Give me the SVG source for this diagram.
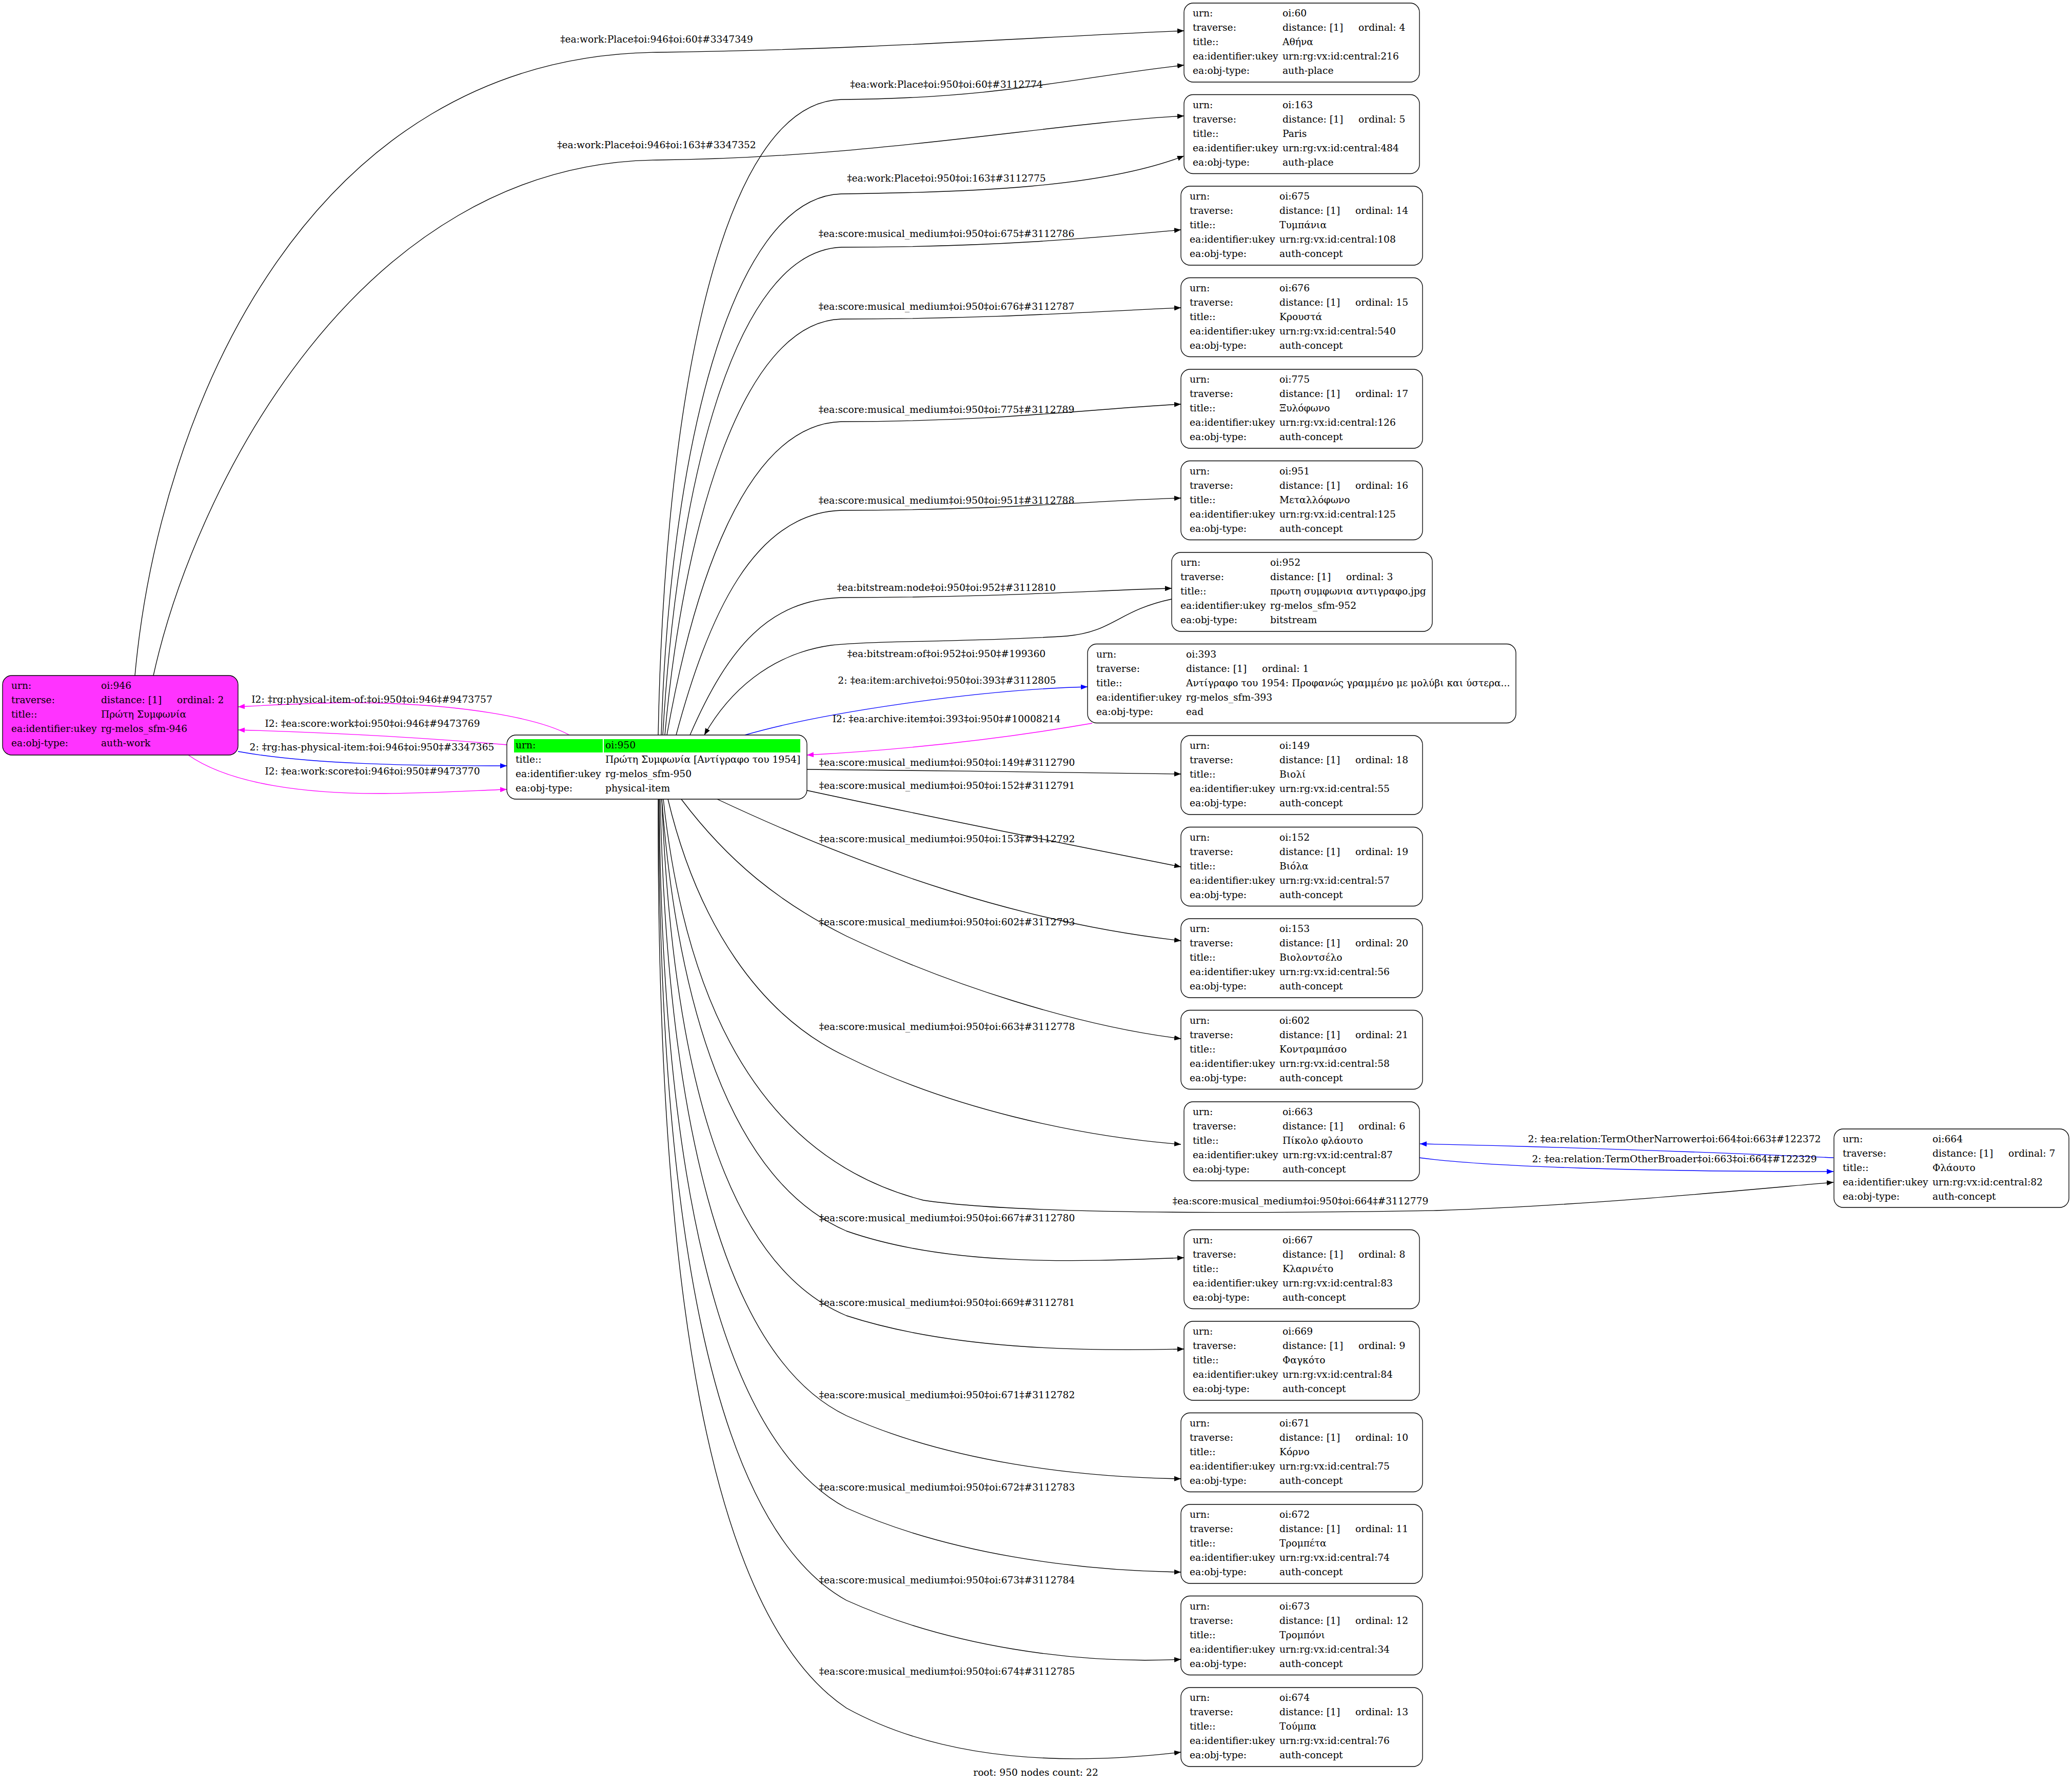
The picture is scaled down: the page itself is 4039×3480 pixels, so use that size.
<svg xmlns="http://www.w3.org/2000/svg" width="4039" height="3480" viewBox="0 0 4039 3480">
<style>
text{font-family:"DejaVu Serif","Liberation Serif",serif;font-size:18.67px;fill:#000}
.nb{fill:#fff;stroke:#000;stroke-width:1.33}
.nm{fill:#ff33ff;stroke:#000;stroke-width:1.33}
.e{fill:none;stroke-width:1.33}
.k{stroke:#000}
.b{stroke:#0000ff}
.p{stroke:#ff00ff}
.lm{text-anchor:middle}
</style>
<defs>
<marker id="ak" viewBox="0 0 13 10" refX="13" refY="5" markerWidth="13" markerHeight="10" markerUnits="userSpaceOnUse" orient="auto"><path d="M0,0 L13,5 L0,10 z" fill="#000"/></marker>
<marker id="ab" viewBox="0 0 13 10" refX="13" refY="5" markerWidth="13" markerHeight="10" markerUnits="userSpaceOnUse" orient="auto"><path d="M0,0 L13,5 L0,10 z" fill="#0000ff"/></marker>
<marker id="ap" viewBox="0 0 13 10" refX="13" refY="5" markerWidth="13" markerHeight="10" markerUnits="userSpaceOnUse" orient="auto"><path d="M0,0 L13,5 L0,10 z" fill="#ff00ff"/></marker>
</defs>
<rect width="4039" height="3480" fill="#fff"/>

<g id="edges">
<path class="e k" marker-end="url(#ak)" d="M263,1317 C310,800 600,110 1280,102 C1700,97 2050,70 2308,60"/>
<path class="e k" marker-end="url(#ak)" d="M299,1317 C380,950 700,318 1280,312 C1700,308 2050,240 2308,226"/>
<path class="e k" marker-end="url(#ak)" d="M1283,1433 C1295,800 1400,200 1640,194 C1950,192 2100,150 2308,127"/>
<path class="e k" marker-end="url(#ak)" d="M1289,1433 C1305,900 1420,385 1640,378 C1900,375 2150,365 2308,304"/>
<path class="e k" marker-end="url(#ak)" d="M1292,1433 C1320,950 1430,490 1640,482 C1950,482 2150,462 2302,448"/>
<path class="e k" marker-end="url(#ak)" d="M1296,1433 C1330,1050 1440,628 1640,622 C1950,622 2150,606 2302,600"/>
<path class="e k" marker-end="url(#ak)" d="M1300,1433 C1350,1150 1450,828 1640,822 C1950,822 2150,795 2302,788"/>
<path class="e k" marker-end="url(#ak)" d="M1318,1433 C1380,1200 1470,1000 1640,995 C1950,995 2150,975 2302,971"/>
<path class="e k" marker-end="url(#ak)" d="M1345,1433 C1420,1260 1500,1170 1640,1165 C1950,1165 2150,1150 2284,1147"/>
<path class="e k" marker-end="url(#ak)" d="M2284,1168 C2180,1190 2170,1232 2080,1240 C1900,1252 1720,1248 1620,1258 C1500,1275 1420,1350 1373,1433"/>
<path class="e b" marker-end="url(#ab)" d="M1452,1433 C1600,1390 1900,1345 2120,1339"/>
<path class="e p" marker-end="url(#ap)" d="M2129,1410 C1900,1450 1700,1465 1573,1472"/>
<path class="e k" marker-end="url(#ak)" d="M1573,1500 C1800,1502 2100,1506 2302,1509"/>
<path class="e k" marker-end="url(#ak)" d="M1573,1541 C1800,1590 2050,1640 2302,1690"/>
<path class="e k" marker-end="url(#ak)" d="M1398,1558 C1700,1700 2000,1800 2302,1834"/>
<path class="e k" marker-end="url(#ak)" d="M1328,1558 C1420,1680 1520,1760 1650,1825 C1850,1920 2100,2000 2302,2025"/>
<path class="e k" marker-end="url(#ak)" d="M1302,1558 C1360,1800 1480,1980 1650,2060 C1850,2160 2100,2215 2302,2231"/>
<path class="e k" marker-end="url(#ak)" d="M1293,1558 C1330,1900 1450,2250 1800,2340 C2000,2370 2500,2365 2800,2360 C3100,2350 3400,2320 3574,2305"/>
<path class="e k" marker-end="url(#ak)" d="M1290,1558 C1320,1950 1420,2300 1650,2400 C1850,2470 2100,2460 2308,2452"/>
<path class="e k" marker-end="url(#ak)" d="M1290,1558 C1310,2050 1400,2460 1650,2565 C1850,2630 2100,2635 2308,2630"/>
<path class="e k" marker-end="url(#ak)" d="M1287,1558 C1300,2150 1400,2640 1650,2760 C1850,2850 2100,2880 2302,2883"/>
<path class="e k" marker-end="url(#ak)" d="M1285,1558 C1290,2250 1390,2800 1650,2940 C1850,3030 2100,3062 2302,3065"/>
<path class="e k" marker-end="url(#ak)" d="M1284,1558 C1285,2350 1380,2970 1650,3120 C1850,3210 2100,3245 2302,3235"/>
<path class="e k" marker-end="url(#ak)" d="M1283,1558 C1280,2500 1380,3150 1650,3330 C1850,3440 2100,3440 2302,3416"/>
<path class="e b" marker-end="url(#ab)" d="M3574,2257 C3300,2245 3000,2235 2768,2230"/>
<path class="e b" marker-end="url(#ab)" d="M2766,2257 C2900,2275 3200,2284 3574,2284"/>
<path class="e p" marker-end="url(#ap)" d="M1110,1433 C1050,1400 900,1372 700,1370 C600,1370 520,1375 464,1378"/>
<path class="e p" marker-end="url(#ap)" d="M988,1452 C850,1440 700,1430 464,1423"/>
<path class="e b" marker-end="url(#ab)" d="M464,1465 C600,1490 800,1493 988,1493"/>
<path class="e p" marker-end="url(#ap)" d="M367,1472 C450,1530 600,1548 750,1547 C850,1546 930,1541 988,1539"/>
<g class="lm">
<text x="1280" y="83">‡ea:work:Place‡oi:946‡oi:60‡#3347349</text>
<text x="1280" y="289">‡ea:work:Place‡oi:946‡oi:163‡#3347352</text>
<text x="1845" y="171">‡ea:work:Place‡oi:950‡oi:60‡#3112774</text>
<text x="1845" y="354">‡ea:work:Place‡oi:950‡oi:163‡#3112775</text>
<text x="1845" y="462">‡ea:score:musical_medium‡oi:950‡oi:675‡#3112786</text>
<text x="1845" y="604">‡ea:score:musical_medium‡oi:950‡oi:676‡#3112787</text>
<text x="1845" y="805">‡ea:score:musical_medium‡oi:950‡oi:775‡#3112789</text>
<text x="1845" y="982">‡ea:score:musical_medium‡oi:950‡oi:951‡#3112788</text>
<text x="1845" y="1152">‡ea:bitstream:node‡oi:950‡oi:952‡#3112810</text>
<text x="1845" y="1281">‡ea:bitstream:of‡oi:952‡oi:950‡#199360</text>
<text x="1846" y="1333">2: ‡ea:item:archive‡oi:950‡oi:393‡#3112805</text>
<text x="1845" y="1408">I2: ‡ea:archive:item‡oi:393‡oi:950‡#10008214</text>
<text x="1846" y="1493">‡ea:score:musical_medium‡oi:950‡oi:149‡#3112790</text>
<text x="1846" y="1538">‡ea:score:musical_medium‡oi:950‡oi:152‡#3112791</text>
<text x="1846" y="1642">‡ea:score:musical_medium‡oi:950‡oi:153‡#3112792</text>
<text x="1846" y="1804">‡ea:score:musical_medium‡oi:950‡oi:602‡#3112793</text>
<text x="1846" y="2008">‡ea:score:musical_medium‡oi:950‡oi:663‡#3112778</text>
<text x="2535" y="2348">‡ea:score:musical_medium‡oi:950‡oi:664‡#3112779</text>
<text x="1846" y="2381">‡ea:score:musical_medium‡oi:950‡oi:667‡#3112780</text>
<text x="1846" y="2546">‡ea:score:musical_medium‡oi:950‡oi:669‡#3112781</text>
<text x="1846" y="2726">‡ea:score:musical_medium‡oi:950‡oi:671‡#3112782</text>
<text x="1846" y="2906">‡ea:score:musical_medium‡oi:950‡oi:672‡#3112783</text>
<text x="1846" y="3087">‡ea:score:musical_medium‡oi:950‡oi:673‡#3112784</text>
<text x="1846" y="3265">‡ea:score:musical_medium‡oi:950‡oi:674‡#3112785</text>
<text x="3264" y="2227">2: ‡ea:relation:TermOtherNarrower‡oi:664‡oi:663‡#122372</text>
<text x="3264" y="2266">2: ‡ea:relation:TermOtherBroader‡oi:663‡oi:664‡#122329</text>
<text x="725" y="1370">I2: ‡rg:physical-item-of:‡oi:950‡oi:946‡#9473757</text>
<text x="726" y="1417">I2: ‡ea:score:work‡oi:950‡oi:946‡#9473769</text>
<text x="725" y="1463">2: ‡rg:has-physical-item:‡oi:946‡oi:950‡#3347365</text>
<text x="726" y="1510">I2: ‡ea:work:score‡oi:946‡oi:950‡#9473770</text>
</g>
</g>

<g id="n946" transform="translate(5,1317)">
<rect class="nm" width="459" height="155" rx="18"/>
<text x="17" y="26">urn:</text><text x="192" y="26">oi:946</text>
<text x="17" y="54">traverse:</text><text x="192" y="54">distance: [1]</text><text x="340" y="54">ordinal: 2</text>
<text x="17" y="82">title::</text><text x="192" y="82">Πρώτη Συμφωνία</text>
<text x="17" y="110">ea:identifier:ukey</text><text x="192" y="110">rg-melos_sfm-946</text>
<text x="17" y="138">ea:obj-type:</text><text x="192" y="138">auth-work</text>
</g>

<g id="n950" transform="translate(988,1433)">
<rect class="nb" width="585" height="125" rx="18"/>
<rect x="14" y="8" width="173" height="26" fill="#00ff00"/>
<rect x="189" y="8" width="383" height="26" fill="#00ff00"/>
<text x="17" y="26">urn:</text><text x="192" y="26">oi:950</text>
<text x="17" y="54">title::</text><text x="192" y="54">Πρώτη Συμφωνία [Αντίγραφο του 1954]</text>
<text x="17" y="82">ea:identifier:ukey</text><text x="192" y="82">rg-melos_sfm-950</text>
<text x="17" y="110">ea:obj-type:</text><text x="192" y="110">physical-item</text>
</g>

<g id="n60" transform="translate(2308,6)">
<rect class="nb" width="459" height="154" rx="18"/>
<text x="17" y="26">urn:</text><text x="192" y="26">oi:60</text>
<text x="17" y="54">traverse:</text><text x="192" y="54">distance: [1]</text><text x="340" y="54">ordinal: 4</text>
<text x="17" y="82">title::</text><text x="192" y="82">Αθήνα</text>
<text x="17" y="110">ea:identifier:ukey</text><text x="192" y="110">urn:rg:vx:id:central:216</text>
<text x="17" y="138">ea:obj-type:</text><text x="192" y="138">auth-place</text>
</g>

<g id="n163" transform="translate(2308,184.5)">
<rect class="nb" width="459" height="154" rx="18"/>
<text x="17" y="26">urn:</text><text x="192" y="26">oi:163</text>
<text x="17" y="54">traverse:</text><text x="192" y="54">distance: [1]</text><text x="340" y="54">ordinal: 5</text>
<text x="17" y="82">title::</text><text x="192" y="82">Paris</text>
<text x="17" y="110">ea:identifier:ukey</text><text x="192" y="110">urn:rg:vx:id:central:484</text>
<text x="17" y="138">ea:obj-type:</text><text x="192" y="138">auth-place</text>
</g>

<g id="n675" transform="translate(2302,363)">
<rect class="nb" width="471" height="154" rx="18"/>
<text x="17" y="26">urn:</text><text x="192" y="26">oi:675</text>
<text x="17" y="54">traverse:</text><text x="192" y="54">distance: [1]</text><text x="340" y="54">ordinal: 14</text>
<text x="17" y="82">title::</text><text x="192" y="82">Τυμπάνια</text>
<text x="17" y="110">ea:identifier:ukey</text><text x="192" y="110">urn:rg:vx:id:central:108</text>
<text x="17" y="138">ea:obj-type:</text><text x="192" y="138">auth-concept</text>
</g>

<g id="n676" transform="translate(2302,541.5)">
<rect class="nb" width="471" height="154" rx="18"/>
<text x="17" y="26">urn:</text><text x="192" y="26">oi:676</text>
<text x="17" y="54">traverse:</text><text x="192" y="54">distance: [1]</text><text x="340" y="54">ordinal: 15</text>
<text x="17" y="82">title::</text><text x="192" y="82">Κρουστά</text>
<text x="17" y="110">ea:identifier:ukey</text><text x="192" y="110">urn:rg:vx:id:central:540</text>
<text x="17" y="138">ea:obj-type:</text><text x="192" y="138">auth-concept</text>
</g>

<g id="n775" transform="translate(2302,720)">
<rect class="nb" width="471" height="154" rx="18"/>
<text x="17" y="26">urn:</text><text x="192" y="26">oi:775</text>
<text x="17" y="54">traverse:</text><text x="192" y="54">distance: [1]</text><text x="340" y="54">ordinal: 17</text>
<text x="17" y="82">title::</text><text x="192" y="82">Ξυλόφωνο</text>
<text x="17" y="110">ea:identifier:ukey</text><text x="192" y="110">urn:rg:vx:id:central:126</text>
<text x="17" y="138">ea:obj-type:</text><text x="192" y="138">auth-concept</text>
</g>

<g id="n951" transform="translate(2302,898.5)">
<rect class="nb" width="471" height="154" rx="18"/>
<text x="17" y="26">urn:</text><text x="192" y="26">oi:951</text>
<text x="17" y="54">traverse:</text><text x="192" y="54">distance: [1]</text><text x="340" y="54">ordinal: 16</text>
<text x="17" y="82">title::</text><text x="192" y="82">Μεταλλόφωνο</text>
<text x="17" y="110">ea:identifier:ukey</text><text x="192" y="110">urn:rg:vx:id:central:125</text>
<text x="17" y="138">ea:obj-type:</text><text x="192" y="138">auth-concept</text>
</g>

<g id="n952" transform="translate(2284,1077)">
<rect class="nb" width="508" height="154" rx="18"/>
<text x="17" y="26">urn:</text><text x="192" y="26">oi:952</text>
<text x="17" y="54">traverse:</text><text x="192" y="54">distance: [1]</text><text x="340" y="54">ordinal: 3</text>
<text x="17" y="82">title::</text><text x="192" y="82">πρωτη συμφωνια αντιγραφο.jpg</text>
<text x="17" y="110">ea:identifier:ukey</text><text x="192" y="110">rg-melos_sfm-952</text>
<text x="17" y="138">ea:obj-type:</text><text x="192" y="138">bitstream</text>
</g>

<g id="n393" transform="translate(2120,1255.5)">
<rect class="nb" width="835" height="154" rx="18"/>
<text x="17" y="26">urn:</text><text x="192" y="26">oi:393</text>
<text x="17" y="54">traverse:</text><text x="192" y="54">distance: [1]</text><text x="340" y="54">ordinal: 1</text>
<text x="17" y="82">title::</text><text x="192" y="82">Αντίγραφο του 1954: Προφανώς γραμμένο με μολύβι και ύστερα...</text>
<text x="17" y="110">ea:identifier:ukey</text><text x="192" y="110">rg-melos_sfm-393</text>
<text x="17" y="138">ea:obj-type:</text><text x="192" y="138">ead</text>
</g>

<g id="n149" transform="translate(2302,1434)">
<rect class="nb" width="471" height="154" rx="18"/>
<text x="17" y="26">urn:</text><text x="192" y="26">oi:149</text>
<text x="17" y="54">traverse:</text><text x="192" y="54">distance: [1]</text><text x="340" y="54">ordinal: 18</text>
<text x="17" y="82">title::</text><text x="192" y="82">Βιολί</text>
<text x="17" y="110">ea:identifier:ukey</text><text x="192" y="110">urn:rg:vx:id:central:55</text>
<text x="17" y="138">ea:obj-type:</text><text x="192" y="138">auth-concept</text>
</g>

<g id="n152" transform="translate(2302,1612.5)">
<rect class="nb" width="471" height="154" rx="18"/>
<text x="17" y="26">urn:</text><text x="192" y="26">oi:152</text>
<text x="17" y="54">traverse:</text><text x="192" y="54">distance: [1]</text><text x="340" y="54">ordinal: 19</text>
<text x="17" y="82">title::</text><text x="192" y="82">Βιόλα</text>
<text x="17" y="110">ea:identifier:ukey</text><text x="192" y="110">urn:rg:vx:id:central:57</text>
<text x="17" y="138">ea:obj-type:</text><text x="192" y="138">auth-concept</text>
</g>

<g id="n153" transform="translate(2302,1791)">
<rect class="nb" width="471" height="154" rx="18"/>
<text x="17" y="26">urn:</text><text x="192" y="26">oi:153</text>
<text x="17" y="54">traverse:</text><text x="192" y="54">distance: [1]</text><text x="340" y="54">ordinal: 20</text>
<text x="17" y="82">title::</text><text x="192" y="82">Βιολοντσέλο</text>
<text x="17" y="110">ea:identifier:ukey</text><text x="192" y="110">urn:rg:vx:id:central:56</text>
<text x="17" y="138">ea:obj-type:</text><text x="192" y="138">auth-concept</text>
</g>

<g id="n602" transform="translate(2302,1969.5)">
<rect class="nb" width="471" height="154" rx="18"/>
<text x="17" y="26">urn:</text><text x="192" y="26">oi:602</text>
<text x="17" y="54">traverse:</text><text x="192" y="54">distance: [1]</text><text x="340" y="54">ordinal: 21</text>
<text x="17" y="82">title::</text><text x="192" y="82">Κοντραμπάσο</text>
<text x="17" y="110">ea:identifier:ukey</text><text x="192" y="110">urn:rg:vx:id:central:58</text>
<text x="17" y="138">ea:obj-type:</text><text x="192" y="138">auth-concept</text>
</g>

<g id="n663" transform="translate(2308,2148)">
<rect class="nb" width="459" height="154" rx="18"/>
<text x="17" y="26">urn:</text><text x="192" y="26">oi:663</text>
<text x="17" y="54">traverse:</text><text x="192" y="54">distance: [1]</text><text x="340" y="54">ordinal: 6</text>
<text x="17" y="82">title::</text><text x="192" y="82">Πίκολο φλάουτο</text>
<text x="17" y="110">ea:identifier:ukey</text><text x="192" y="110">urn:rg:vx:id:central:87</text>
<text x="17" y="138">ea:obj-type:</text><text x="192" y="138">auth-concept</text>
</g>

<g id="n664" transform="translate(3575,2201)">
<rect class="nb" width="458" height="153" rx="18"/>
<text x="17" y="26">urn:</text><text x="192" y="26">oi:664</text>
<text x="17" y="54">traverse:</text><text x="192" y="54">distance: [1]</text><text x="340" y="54">ordinal: 7</text>
<text x="17" y="82">title::</text><text x="192" y="82">Φλάουτο</text>
<text x="17" y="110">ea:identifier:ukey</text><text x="192" y="110">urn:rg:vx:id:central:82</text>
<text x="17" y="138">ea:obj-type:</text><text x="192" y="138">auth-concept</text>
</g>

<g id="n667" transform="translate(2308,2397.5)">
<rect class="nb" width="459" height="154" rx="18"/>
<text x="17" y="26">urn:</text><text x="192" y="26">oi:667</text>
<text x="17" y="54">traverse:</text><text x="192" y="54">distance: [1]</text><text x="340" y="54">ordinal: 8</text>
<text x="17" y="82">title::</text><text x="192" y="82">Κλαρινέτο</text>
<text x="17" y="110">ea:identifier:ukey</text><text x="192" y="110">urn:rg:vx:id:central:83</text>
<text x="17" y="138">ea:obj-type:</text><text x="192" y="138">auth-concept</text>
</g>

<g id="n669" transform="translate(2308,2576)">
<rect class="nb" width="459" height="154" rx="18"/>
<text x="17" y="26">urn:</text><text x="192" y="26">oi:669</text>
<text x="17" y="54">traverse:</text><text x="192" y="54">distance: [1]</text><text x="340" y="54">ordinal: 9</text>
<text x="17" y="82">title::</text><text x="192" y="82">Φαγκότο</text>
<text x="17" y="110">ea:identifier:ukey</text><text x="192" y="110">urn:rg:vx:id:central:84</text>
<text x="17" y="138">ea:obj-type:</text><text x="192" y="138">auth-concept</text>
</g>

<g id="n671" transform="translate(2302,2754.5)">
<rect class="nb" width="471" height="154" rx="18"/>
<text x="17" y="26">urn:</text><text x="192" y="26">oi:671</text>
<text x="17" y="54">traverse:</text><text x="192" y="54">distance: [1]</text><text x="340" y="54">ordinal: 10</text>
<text x="17" y="82">title::</text><text x="192" y="82">Κόρνο</text>
<text x="17" y="110">ea:identifier:ukey</text><text x="192" y="110">urn:rg:vx:id:central:75</text>
<text x="17" y="138">ea:obj-type:</text><text x="192" y="138">auth-concept</text>
</g>

<g id="n672" transform="translate(2302,2933)">
<rect class="nb" width="471" height="154" rx="18"/>
<text x="17" y="26">urn:</text><text x="192" y="26">oi:672</text>
<text x="17" y="54">traverse:</text><text x="192" y="54">distance: [1]</text><text x="340" y="54">ordinal: 11</text>
<text x="17" y="82">title::</text><text x="192" y="82">Τρομπέτα</text>
<text x="17" y="110">ea:identifier:ukey</text><text x="192" y="110">urn:rg:vx:id:central:74</text>
<text x="17" y="138">ea:obj-type:</text><text x="192" y="138">auth-concept</text>
</g>

<g id="n673" transform="translate(2302,3111.5)">
<rect class="nb" width="471" height="154" rx="18"/>
<text x="17" y="26">urn:</text><text x="192" y="26">oi:673</text>
<text x="17" y="54">traverse:</text><text x="192" y="54">distance: [1]</text><text x="340" y="54">ordinal: 12</text>
<text x="17" y="82">title::</text><text x="192" y="82">Τρομπόνι</text>
<text x="17" y="110">ea:identifier:ukey</text><text x="192" y="110">urn:rg:vx:id:central:34</text>
<text x="17" y="138">ea:obj-type:</text><text x="192" y="138">auth-concept</text>
</g>

<g id="n674" transform="translate(2302,3290)">
<rect class="nb" width="471" height="154" rx="18"/>
<text x="17" y="26">urn:</text><text x="192" y="26">oi:674</text>
<text x="17" y="54">traverse:</text><text x="192" y="54">distance: [1]</text><text x="340" y="54">ordinal: 13</text>
<text x="17" y="82">title::</text><text x="192" y="82">Τούμπα</text>
<text x="17" y="110">ea:identifier:ukey</text><text x="192" y="110">urn:rg:vx:id:central:76</text>
<text x="17" y="138">ea:obj-type:</text><text x="192" y="138">auth-concept</text>
</g>

<text id="root-label" x="2019" y="3462" text-anchor="middle">root: 950 nodes count: 22</text>
</svg>
